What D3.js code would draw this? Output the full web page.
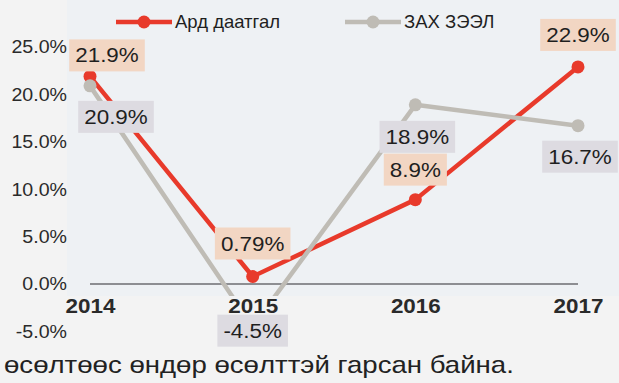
<!DOCTYPE html>
<html>
<head>
<meta charset="utf-8">
<script src="https://cdn.jsdelivr.net/npm/d3@7/dist/d3.min.js"></script>
<style>
  html, body { margin: 0; padding: 0; background: #f3f3f3; }
  svg { display: block; font-family: "Liberation Sans", Arial, sans-serif; }
</style>
</head>
<body>
<svg id="chart" width="619" height="383"></svg>
<script>
// Growth rates, %
const years = ["2014", "2015", "2016", "2017"];
const ardDaatgal = [21.9, 0.79, 8.9, 22.9];
const zahZeel = [20.9, -4.5, 18.9, 16.7];
const seriesNames = ["Ард даатгал", "ЗАХ ЗЭЭЛ"];
const yTicks = [-5, 0, 5, 10, 15, 20, 25];
const caption = "өсөлтөөс өндөр өсөлттэй гарсан байна.";

const W = 619, H = 383;
const STRETCH = 1.15; // the typeface runs wide
const svg = d3.select("#chart");

const x = d3.scalePoint().domain(years).range([90, 578]);
const y = d3.scaleLinear().domain([-5, 25]).range([331.4, 47]);

// widen a text element horizontally about its own anchor x
function widen(sel, k) {
  sel.each(function () {
    const t = d3.select(this);
    const ax = +t.attr("x") || 0;
    t.attr("transform", `translate(${ax},0) scale(${k},1) translate(${-ax},0)`);
  });
}

// plot area
svg.append("rect").attr("x", 67).attr("y", 0).attr("width", W - 67).attr("height", 296)
  .attr("fill", "#eef1f4");

svg.append("defs").append("clipPath").attr("id", "plotClip")
  .append("rect").attr("x", 0).attr("y", 0).attr("width", W).attr("height", 296);

// y axis labels
const yAxis = d3.axisLeft(y).tickValues(yTicks).tickSize(0).tickPadding(0)
  .tickFormat(d => d.toFixed(1) + "%");
const gy = svg.append("g").attr("transform", "translate(67,0)").call(yAxis);
gy.select(".domain").remove();
gy.selectAll("text").attr("font-size", 18.5).attr("fill", "#2a2a2a")
  .attr("font-family", "'Liberation Sans', Arial, sans-serif").call(widen, 1.06);

// zero line
svg.append("line").attr("x1", x("2014")).attr("x2", x("2017"))
  .attr("y1", y(0)).attr("y2", y(0))
  .attr("stroke", "#6d6d72").attr("stroke-width", 1.6);

// x axis labels
const xAxis = d3.axisBottom(x).tickSize(0).tickPadding(0);
const gx = svg.append("g").attr("transform", "translate(0,296)").call(xAxis);
gx.select(".domain").remove();
gx.selectAll("text").attr("font-size", 19.5).attr("font-weight", "bold").attr("fill", "#2a2a2a")
  .attr("font-family", "'Liberation Sans', Arial, sans-serif").attr("dy", "0.85em")
  .call(widen, STRETCH);

const series = [
  { name: seriesNames[0], values: ardDaatgal, color: "#e83a2b", box: "#f2d6c3",
    off: [[17, -21], [0, -33], [0, -30], [0, -32]] },
  { name: seriesNames[1], values: zahZeel, color: "#bfbcb5", box: "#dddbe1",
    off: [[26, 31], [0, 4], [2, 32], [2, 31]] }
];

const line = d3.line().x((d, i) => x(years[i])).y(d => y(d));

const plot = svg.append("g").attr("clip-path", "url(#plotClip)");
series.forEach(s => {
  plot.append("path").datum(s.values).attr("d", line)
    .attr("fill", "none").attr("stroke", s.color).attr("stroke-width", 4.5)
    .attr("stroke-linejoin", "round");
  plot.selectAll(null).data(s.values).join("circle")
    .attr("cx", (d, i) => x(years[i])).attr("cy", d => y(d)).attr("r", 6.5)
    .attr("fill", s.color);
});

// data labels
const labels = svg.append("g");
series.forEach(s => {
  s.values.forEach((v, i) => {
    const cx = x(years[i]) + s.off[i][0];
    const cy = y(v) + s.off[i][1];
    const g = labels.append("g");
    const t = g.append("text").attr("x", cx).attr("y", cy)
      .attr("text-anchor", "middle").attr("dy", "0.36em")
      .attr("font-size", 19.5).attr("fill", "#1f1f1f")
      .text(v + "%");
    const w = t.node().getBBox().width * STRETCH;
    t.call(widen, STRETCH);
    g.insert("rect", "text").attr("x", cx - w / 2 - 6).attr("y", cy - 16)
      .attr("width", w + 12).attr("height", 32).attr("fill", s.box);
  });
});

// legend
const legend = [
  { name: seriesNames[0], color: "#e83a2b", x0: 116 },
  { name: seriesNames[1], color: "#bfbcb5", x0: 345 }
];
legend.forEach(l => {
  const g = svg.append("g");
  g.append("line").attr("x1", l.x0).attr("x2", l.x0 + 56).attr("y1", 22).attr("y2", 22)
    .attr("stroke", l.color).attr("stroke-width", 4.5);
  g.append("circle").attr("cx", l.x0 + 28).attr("cy", 22).attr("r", 6.5).attr("fill", l.color);
  g.append("text").attr("x", l.x0 + 59).attr("y", 28).attr("font-size", 18.5)
    .attr("fill", "#1f1f1f").text(l.name);
});

// caption below
svg.append("text").attr("x", 4).attr("y", 373).attr("font-size", 24)
  .attr("fill", "#222").text(caption).call(widen, 1.15);
</script>
</body>
</html>
